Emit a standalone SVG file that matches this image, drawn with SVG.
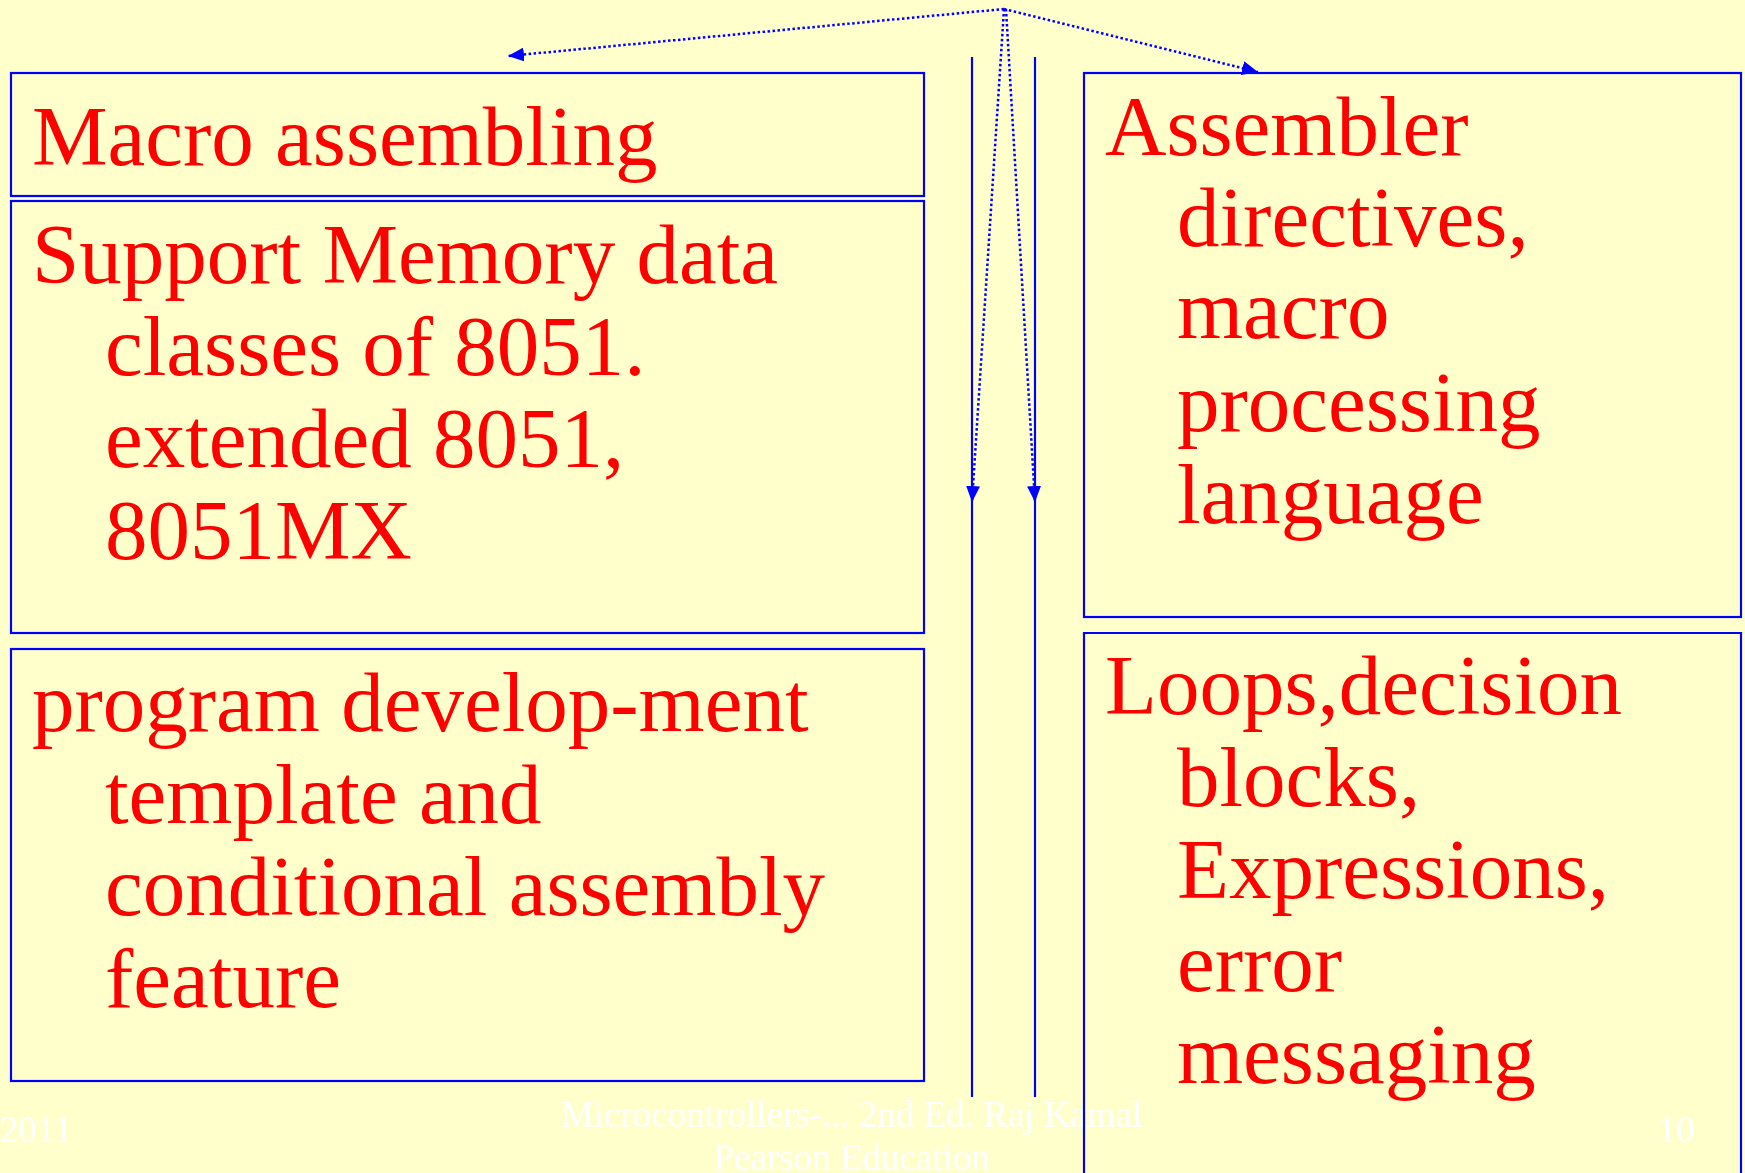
<svg xmlns="http://www.w3.org/2000/svg" width="1745" height="1173" viewBox="0 0 1745 1173">
<defs>
<style>
.box{fill:none;stroke:#0000FF;stroke-width:2.2}
.t{font-family:"Liberation Serif","Times New Roman",serif;font-size:85px;fill:#FF0000}
.foot{font-family:"Liberation Serif","Times New Roman",serif;font-size:37px;fill:#FFFFFF}
.dot{fill:none;stroke:#0000FF;stroke-width:2.5;stroke-dasharray:2.5 2.5}
.solid{fill:none;stroke:#0000FF;stroke-width:2.2}
</style>
<marker id="ah" viewBox="0 0 16 14" refX="16" refY="7" markerWidth="16" markerHeight="14" markerUnits="userSpaceOnUse" orient="auto">
<path d="M0,0 L16,7 L0,14 z" fill="#0000FF"/>
</marker>
</defs>
<rect x="0" y="0" width="1745" height="1173" fill="#FFFFCC"/>
<g id="footer">
<text class="foot" x="0" y="1142">2011</text>
<text class="foot" x="852" y="1127" text-anchor="middle">Microcontrollers-... 2nd Ed. Raj Kamal</text>
<text class="foot" x="852" y="1170" text-anchor="middle">Pearson Education</text>
<text class="foot" x="1658" y="1142">10</text>
</g>
<g id="connectors">
<line class="solid" x1="972" y1="57" x2="972" y2="1097"/>
<line class="solid" x1="1035" y1="57" x2="1035" y2="1097"/>
<path class="dot" d="M1004,9 L508,56" marker-end="url(#ah)"/>
<path class="dot" d="M1004,9 L1258,72" marker-end="url(#ah)"/>
<path class="dot" d="M1004,9 L972,502" marker-end="url(#ah)"/>
<path class="dot" d="M1006,9 L1035,502" marker-end="url(#ah)"/>
</g>
<g id="macro-assembling">
<rect class="box" x="11" y="73" width="913" height="123"/>
<text class="t" x="32" y="165">Macro assembling</text>
</g>
<g id="support-memory">
<rect class="box" x="11" y="201" width="913" height="432"/>
<text class="t"><tspan x="32" y="283">Support Memory data</tspan><tspan x="105" y="375">classes of 8051.</tspan><tspan x="105" y="467">extended 8051,</tspan><tspan x="105" y="559">8051MX</tspan></text>
</g>
<g id="program-development">
<rect class="box" x="11" y="649" width="913" height="432"/>
<text class="t"><tspan x="32" y="731">program develop-ment</tspan><tspan x="105" y="823">template and</tspan><tspan x="105" y="915">conditional assembly</tspan><tspan x="105" y="1007">feature</tspan></text>
</g>
<g id="assembler-directives">
<rect class="box" x="1084" y="73" width="657" height="544"/>
<text class="t"><tspan x="1105" y="155">Assembler</tspan><tspan x="1177" y="246">directives,</tspan><tspan x="1177" y="338">macro</tspan><tspan x="1177" y="431">processing</tspan><tspan x="1177" y="523">language</tspan></text>
</g>
<g id="loops-decision">
<path class="box" d="M1084,1175 L1084,633 L1741,633 L1741,1175"/>
<text class="t"><tspan x="1105" y="714">Loops,decision</tspan><tspan x="1177" y="806">blocks,</tspan><tspan x="1177" y="898">Expressions,</tspan><tspan x="1177" y="991">error</tspan><tspan x="1177" y="1083">messaging</tspan></text>
</g>
</svg>
